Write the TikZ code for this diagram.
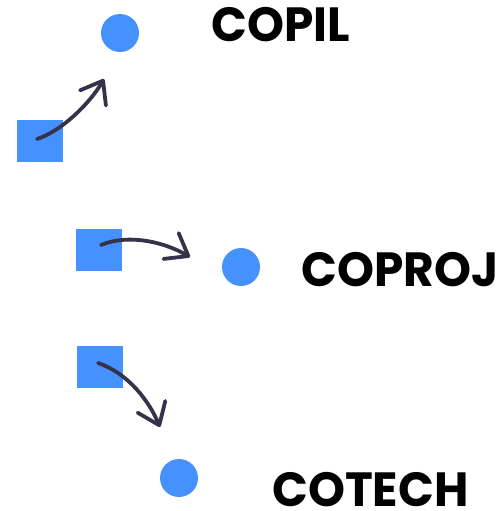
\documentclass[tikz,border=0pt]{standalone}
\usepackage{fontspec}
\setmainfont{Poppins}[FakeStretch=0.98]
\usetikzlibrary{arrows.meta}
\definecolor{tileblue}{HTML}{4592FF}
\definecolor{inkdark}{HTML}{35334A}
\tikzset{
  tile/.style={rectangle, fill=tileblue, draw=none, minimum width=46pt, minimum height=42pt, inner sep=0pt},
  dot/.style={circle, fill=tileblue, draw=none, minimum size=38pt, inner sep=0pt},
  label/.style={anchor=base west, inner sep=0pt, text depth=0pt, font=\bfseries\fontsize{48}{50}\selectfont},
  curl/.style={draw=inkdark, line width=3.8pt, line cap=round, line join=round,
    -{Straight Barb[length=20pt,width=30pt,line cap=round,line join=round]}}
}
\begin{document}
\begin{tikzpicture}[x=1pt,y=-1pt]
\useasboundingbox (0,0) rectangle (501,511);
% group 1
\node[tile] (sq1) at (40,140.5) {};
\node[dot] (c1) at (120,33) {};
\node[label] (t1) at (211,42) {COPIL};
\coordinate (a1s) at (37,139);
\coordinate (a1e) at (104,79);
\draw[curl] (a1s) .. controls (62,131) and (90,103) .. (a1e);
% group 2
\node[tile] (sq2) at (99,250) {};
\node[dot] (c2) at (241,267) {};
\node[label] (t2) at (301,286) {COPROJ};
\coordinate (a2s) at (101,245);
\coordinate (a2e) at (190,257);
\draw[curl] (a2s) .. controls (130,233) and (166,243) .. (a2e);
% group 3
\node[tile] (sq3) at (100,366.5) {};
\node[dot] (c3) at (179,478) {};
\node[label] (t3) at (272,506.5) {COTECH};
\coordinate (a3s) at (98,363);
\coordinate (a3e) at (160,427);
\draw[curl] (a3s) .. controls (128,373) and (149,401) .. (a3e);
\end{tikzpicture}
\end{document}
